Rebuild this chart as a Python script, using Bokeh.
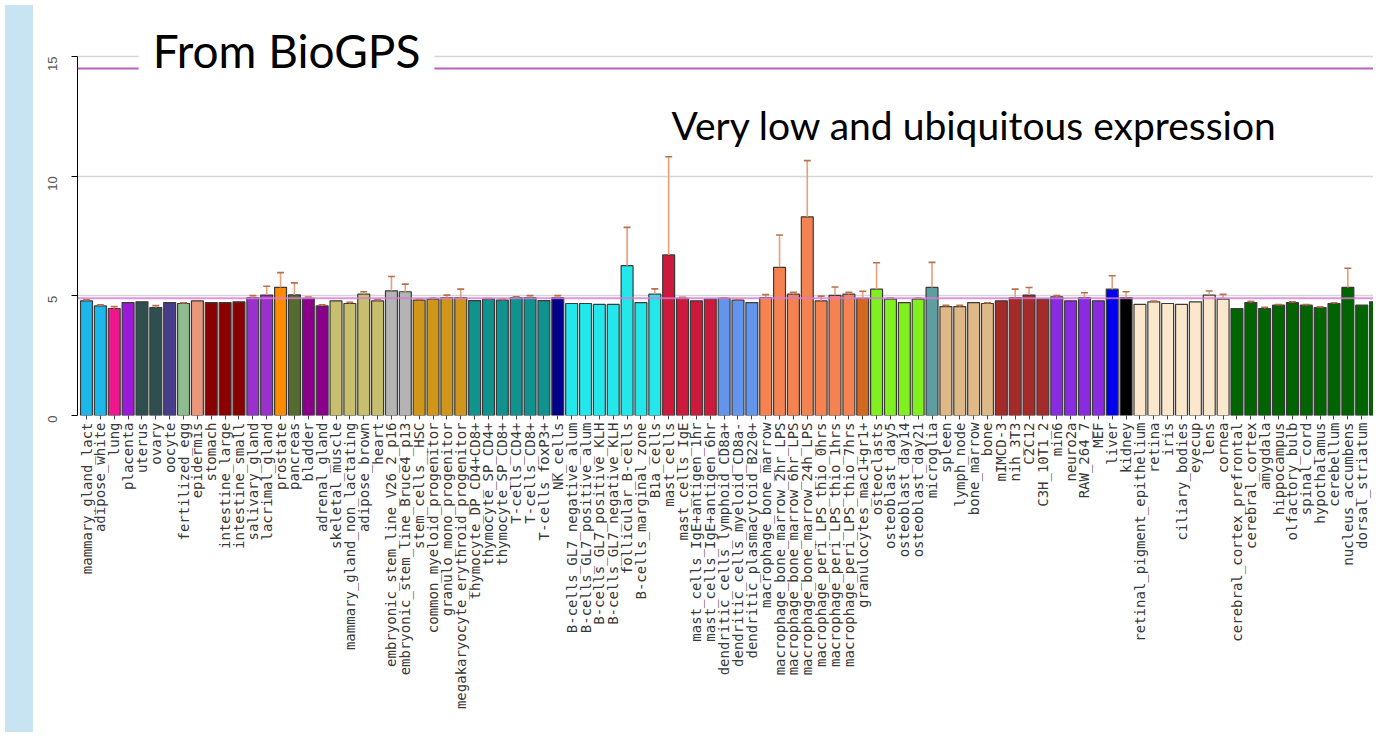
import math
from bokeh.plotting import figure
from bokeh.models import Range1d, FixedTicker, Span, Label, Div, ColumnDataSource
from bokeh.layouts import row
from bokeh.embed import file_html
from bokeh.resources import INLINE

samples = [
    "mammary_gland_lact", "adipose_white", "lung", "placenta", "uterus", "ovary",
    "oocyte", "fertilized_egg", "epidermis", "stomach", "intestine_large",
    "intestine_small", "salivary_gland", "lacrimal_gland", "prostate", "pancreas",
    "bladder", "adrenal_gland", "skeletal_muscle", "mammary_gland_non_lactating",
    "adipose_brown", "heart", "embryonic_stem_line_V26_2_p16",
    "embryonic_stem_line_Bruce4_p13", "stem_cells__HSC", "common_myeloid_progenitor",
    "granulo_mono_progenitor", "megakaryocyte_erythroid_progenitor",
    "thymocyte_DP_CD4+CD8+", "thymocyte_SP_CD4+", "thymocyte_SP_CD8+",
    "T-cells_CD4+", "T-cells_CD8+", "T-cells_foxP3+", "NK_cells",
    "B-cells_GL7_negative_alum", "B-cells_GL7_positive_alum",
    "B-cells_GL7_positive_KLH", "B-cells_GL7_negative_KLH", "follicular_B-cells",
    "B-cells_marginal_zone", "B1a_cells", "mast_cells", "mast_cells_IgE",
    "mast_cells_IgE+antigen_1hr", "mast_cells_IgE+antigen_6hr",
    "dendritic_cells_lymphoid_CD8a+", "dendritic_cells_myeloid_CD8a-",
    "dendritic_plasmacytoid_B220+", "macrophage_bone_marrow",
    "macrophage_bone_marrow_2hr_LPS", "macrophage_bone_marrow_6hr_LPS",
    "macrophage_bone_marrow_24h_LPS", "macrophage_peri_LPS_thio_0hrs",
    "macrophage_peri_LPS_thio_1hrs", "macrophage_peri_LPS_thio_7hrs",
    "granulocytes_mac1+gr1+", "osteoclasts", "osteoblast_day5", "osteoblast_day14",
    "osteoblast_day21", "microglia", "spleen", "lymph_node", "bone_marrow", "bone",
    "mIMCD-3", "nih_3T3", "C2C12", "C3H_10T1_2", "min6", "neuro2a", "RAW_264_7",
    "MEF", "liver", "kidney", "retinal_pigment_epithelium", "retina", "iris",
    "ciliary_bodies", "eyecup", "lens", "cornea", "cerebral_cortex_prefrontal",
    "cerebral_cortex", "amygdala", "hippocampus", "olfactory_bulb", "spinal_cord",
    "hypothalamus", "cerebellum", "nucleus_accumbens", "dorsal_striatum",
    "dorsal_root_ganglia",
]

expression = [
    4.79, 4.58, 4.47, 4.72, 4.75, 4.51, 4.72, 4.68, 4.79, 4.72,
    4.72, 4.75, 4.93, 5.03, 5.35, 5.04, 4.90, 4.58, 4.79, 4.68,
    5.07, 4.79, 5.21, 5.17, 4.82, 4.86, 4.93, 4.93, 4.80, 4.86,
    4.82, 4.93, 4.93, 4.80, 4.93, 4.68, 4.68, 4.64, 4.64, 6.26,
    4.72, 5.07, 6.71, 4.89, 4.79, 4.86, 4.89, 4.82, 4.72, 4.93,
    6.19, 5.07, 8.30, 4.79, 5.02, 5.07, 4.89, 5.28, 4.86, 4.72,
    4.86, 5.35, 4.55, 4.55, 4.72, 4.68, 4.79, 4.93, 5.03, 4.86,
    4.96, 4.79, 4.93, 4.79, 5.28, 4.93, 4.64, 4.75, 4.68, 4.64,
    4.75, 5.03, 4.86, 4.47, 4.72, 4.47, 4.61, 4.72, 4.61, 4.51,
    4.68, 5.35, 4.61, 4.75,
]

errors = [
    0.05, 0.05, 0.08, 0.0, 0.0, 0.08, 0.0, 0.03, 0.0, 0.0,
    0.0, 0.0, 0.08, 0.37, 0.62, 0.50, 0.05, 0.05, 0.0, 0.05,
    0.10, 0.05, 0.60, 0.32, 0.05, 0.05, 0.10, 0.35, 0.0, 0.03,
    0.05, 0.03, 0.08, 0.0, 0.08, 0.0, 0.0, 0.0, 0.0, 1.60,
    0.0, 0.22, 4.10, 0.05, 0.0, 0.0, 0.03, 0.03, 0.0, 0.12,
    1.35, 0.08, 2.35, 0.20, 0.35, 0.08, 0.30, 1.10, 0.05, 0.0,
    0.05, 1.05, 0.05, 0.05, 0.0, 0.03, 0.0, 0.35, 0.32, 0.0,
    0.05, 0.0, 0.20, 0.0, 0.56, 0.24, 0.0, 0.03, 0.0, 0.0,
    0.0, 0.17, 0.20, 0.0, 0.05, 0.05, 0.03, 0.03, 0.03, 0.03,
    0.03, 0.80, 0.0, 0.0,
]

# colour groups: (colour, number of consecutive samples)
color_groups = [
    ("#1cb8ec", 2), ("#f0168e", 1), ("#9a1ad8", 1), ("#2f4f4f", 2),
    ("#483d8b", 1), ("#8fbc8f", 1), ("#e9967a", 1), ("#8b0000", 3),
    ("#9932cc", 2), ("#ff8c00", 1), ("#556b2f", 1), ("#8b008b", 2),
    ("#c8bf6e", 4), ("#b4b4b4", 2), ("#d0961a", 4), ("#10938e", 6),
    ("#00008b", 1), ("#22e8ec", 7), ("#cd1a3c", 4), ("#6495ed", 3),
    ("#f58352", 7), ("#d2691e", 1), ("#80f020", 4), ("#5f9ea0", 1),
    ("#deb887", 4), ("#a52a2a", 4), ("#8a2be2", 4), ("#0000ee", 1),
    ("#000000", 1), ("#fbe8cc", 7), ("#006400", 11),
]

median_line = 4.9
three_x_median_line = 14.5
y_ticks = [0, 5, 10, 15]

colors = []
for c, n in color_groups:
    colors += [c] * n

xs = list(range(1, len(samples) + 1))
src = ColumnDataSource(dict(x=xs, top=expression, color=colors))

ex = [x for x, e in zip(xs, errors) if e > 0]
elo = [t for t, e in zip(expression, errors) if e > 0]
ehi = [t + e for t, e in zip(expression, errors) if e > 0]
esrc = ColumnDataSource(dict(x=ex, lo=elo, hi=ehi))

p = figure(width=1335, height=727, output_backend="svg", toolbar_location=None,
           x_range=Range1d(0.35, 93.85), y_range=Range1d(0, 16.63),
           min_border_left=39, min_border_right=0, min_border_top=17,
           min_border_bottom=312)
p.outline_line_color = None
p.background_fill_color = "white"
p.border_fill_color = "white"

p.xgrid.grid_line_color = None
p.ygrid.ticker = FixedTicker(ticks=[5, 10, 15])
p.ygrid.grid_line_color = "#d6d6d6"
p.ygrid.grid_line_width = 1.5

p.vbar(x="x", top="top", bottom=0, width=0.86, fill_color="color",
       line_color="#3a3a3a", line_width=1.2, source=src)

p.segment(x0="x", y0="lo", x1="x", y1="hi", line_color="#e8a07a",
          line_width=1.6, source=esrc)
p.scatter(x="x", y="hi", marker="dash", size=7, line_color="#b8704c",
          line_width=1.6, source=esrc)

p.add_layout(Span(location=median_line, dimension="width", line_color="#d77ad8",
                  line_width=2, line_alpha=0.8, level="overlay"))
p.add_layout(Span(location=three_x_median_line, dimension="width",
                  line_color="#b963bd", line_width=2, level="overlay"))

# y axis
p.yaxis.ticker = FixedTicker(ticks=y_ticks)
p.yaxis.bounds = (y_ticks[0], y_ticks[-1])
p.yaxis.major_label_orientation = math.pi / 2
p.yaxis.axis_line_color = "black"
p.yaxis.major_tick_out = 6
p.yaxis.major_tick_in = 0
p.yaxis.minor_tick_line_color = None
p.yaxis.major_label_standoff = 19
p.yaxis.major_label_text_font = "Liberation Sans"
p.yaxis.major_label_text_font_size = "13px"
p.yaxis.major_label_text_color = "#555555"

# x axis
p.xaxis.ticker = FixedTicker(ticks=xs)
p.xaxis.major_label_overrides = {x: s for x, s in zip(xs, samples)}
p.xaxis.major_label_orientation = math.pi / 2
p.xaxis.axis_line_color = None
p.xaxis.major_tick_out = 4
p.xaxis.major_tick_in = 0
p.xaxis.major_tick_line_color = "#444444"
p.xaxis.minor_tick_line_color = None
p.xaxis.major_label_standoff = 3
p.xaxis.major_label_text_font = "DejaVu Sans Mono"
p.xaxis.major_label_text_font_size = "14px"
p.xaxis.major_label_text_color = "#383838"

p.add_layout(Label(x=4.76, y=15.25, text="From BioGPS", text_font="Lato",
                   text_font_size="46px", text_color="black",
                   text_baseline="alphabetic", background_fill_color="white",
                   padding=14, level="overlay"))
p.add_layout(Label(x=43.2, y=12.13, text="Very low and ubiquitous expression",
                   text_font="Lato", text_font_size="39px", text_color="black",
                   text_baseline="alphabetic", level="overlay"))

strip = Div(width=28, height=727, styles={"background-color": "#c8e4f2"})
layout = row(strip, p)

open("out.html", "w").write(file_html(layout, INLINE))
